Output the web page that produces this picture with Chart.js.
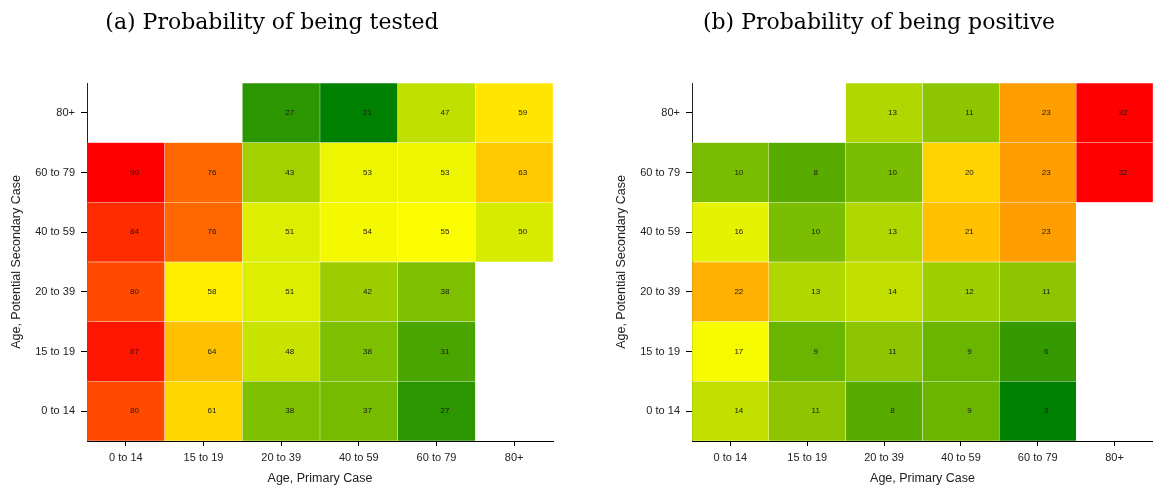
<!DOCTYPE html>
<html lang="en">

<head>
    <meta charset="UTF-8">
    <title>Testing and positivity by age</title>
    <script src="https://cdn.jsdelivr.net/npm/chart.js"></script>
    <style>
        body {
            margin: 0;
            width: 1153px;
            height: 488px;
            overflow: hidden;
            background: #fff;
        }

        .panel {
            position: absolute;
            top: 0;
            height: 488px;
        }

        #panelA {
            left: -9px;
            width: 573px;
        }

        #panelB {
            left: 605px;
            width: 559px;
        }
    </style>
</head>

<body>
    <div class="panel" id="panelA"><canvas id="testedChart"></canvas></div>
    <div class="panel" id="panelB"><canvas id="positiveChart"></canvas></div>

    <script>
        // Age groups (x = primary case, y = potential secondary case, bottom to top)
        const primaryAges = ['0 to 14', '15 to 19', '20 to 39', '40 to 59', '60 to 79', '80+'];
        const secondaryAges = ['0 to 14', '15 to 19', '20 to 39', '40 to 59', '60 to 79', '80+'];

        // (a) probability of being tested, %, one row per secondary age group
        const testedPct = [
            [80, 61, 38, 37, 27, null],   // 0 to 14
            [87, 64, 48, 38, 31, null],   // 15 to 19
            [80, 58, 51, 42, 38, null],   // 20 to 39
            [84, 76, 51, 54, 55, 50],     // 40 to 59
            [90, 76, 43, 53, 53, 63],     // 60 to 79
            [null, null, 27, 21, 47, 59]  // 80+
        ];

        // (b) probability of being positive, %
        const positivePct = [
            [14, 11, 8, 9, 3, null],
            [17, 9, 11, 9, 6, null],
            [22, 13, 14, 12, 11, null],
            [16, 10, 13, 21, 23, null],
            [10, 8, 10, 20, 23, 32],
            [null, null, 13, 11, 23, 32]
        ];

        const axisFont = { family: 'Liberation Sans', size: 11 };
        const titleFont = { family: 'Liberation Sans', size: 12.5 };

        // green -> yellow -> red, midpoint halfway between min and max
        function heatColor(v, min, max) {
            const mid = (min + max) / 2;
            let r, g;
            if (v <= mid) {
                const t = (v - min) / (mid - min);
                r = Math.round(255 * t);
                g = Math.round(128 + 127 * t);
            } else {
                const t = (v - mid) / (max - mid);
                r = 255;
                g = Math.round(255 * (1 - t));
            }
            return `rgb(${r}, ${g}, 0)`;
        }

        // write the value in each cell (slightly right of centre, like the original)
        const cellLabels = {
            id: 'cellLabels',
            afterDatasetsDraw(chart) {
                const ctx = chart.ctx;
                ctx.save();
                ctx.font = '8px "Liberation Sans"';
                ctx.fillStyle = '#1a1a1a';
                ctx.textAlign = 'center';
                ctx.textBaseline = 'middle';
                chart.data.datasets.forEach((ds, i) => {
                    chart.getDatasetMeta(i).data.forEach((bar, j) => {
                        const v = ds.values[j];
                        if (v === null) return;
                        ctx.fillText(v, bar.x + bar.width * 0.11, (bar.y + bar.base) / 2);
                    });
                });
                ctx.restore();
            }
        };

        function initializeHeatmap(canvasId, title, rows, yAxisWidth) {
            const all = rows.flat().filter(v => v !== null);
            const min = Math.min(...all);
            const max = Math.max(...all);

            const datasets = rows.map((row, r) => ({
                label: secondaryAges[r],
                values: row,
                data: row.map(v => (v === null ? null : [r, r + 1])),
                backgroundColor: row.map(v => (v === null ? 'transparent' : heatColor(v, min, max))),
                borderColor: 'rgba(255, 255, 255, 0.35)',
                borderWidth: 0.5,
                borderSkipped: false,
                grouped: false,
                categoryPercentage: 1,
                barPercentage: 1
            }));

            const ctx = document.getElementById(canvasId).getContext('2d');
            return new Chart(ctx, {
                type: 'bar',
                data: { labels: primaryAges, datasets: datasets },
                options: {
                    responsive: true,
                    maintainAspectRatio: false,
                    animation: false,
                    layout: { padding: { left: 0, right: 11, top: 0, bottom: 0 } },
                    plugins: {
                        legend: { display: false },
                        tooltip: { enabled: false },
                        title: {
                            display: true,
                            text: title,
                            color: '#000',
                            font: { family: 'DejaVu Serif', size: 22, weight: 'normal' },
                            padding: { top: 10, bottom: 46.6 }
                        }
                    },
                    scales: {
                        x: {
                            offset: true,
                            grid: { drawOnChartArea: false, offset: false, tickLength: 5, color: '#000' },
                            border: { display: true, color: '#000', width: 1 },
                            ticks: { color: '#222', font: axisFont, padding: 5, maxRotation: 0 },
                            title: {
                                display: true,
                                text: 'Age, Primary Case',
                                color: '#222',
                                font: titleFont,
                                padding: { top: 0, bottom: 2 }
                            },
                            afterFit: (scale) => { scale.height = 47; }
                        },
                        y: {
                            min: 0,
                            max: 6,
                            afterBuildTicks: (scale) => {
                                scale.ticks = secondaryAges.map((_, i) => ({ value: i + 0.5 }));
                            },
                            grid: { drawOnChartArea: false, tickLength: 6, color: '#000' },
                            border: { display: true, color: '#222', width: 1 },
                            ticks: {
                                color: '#222',
                                font: axisFont,
                                padding: 6,
                                callback: (value) => secondaryAges[Math.floor(value)]
                            },
                            title: {
                                display: true,
                                text: 'Age, Potential Secondary Case',
                                color: '#222',
                                font: titleFont,
                                padding: { top: yAxisWidth - 78, bottom: 0 }
                            },
                            afterFit: (scale) => { scale.width = yAxisWidth; }
                        }
                    }
                },
                plugins: [cellLabels]
            });
        }

        initializeHeatmap('testedChart', '(a) Probability of being tested', testedPct, 96);
        initializeHeatmap('positiveChart', '(b) Probability of being positive', positivePct, 87);
    </script>
</body>

</html>
